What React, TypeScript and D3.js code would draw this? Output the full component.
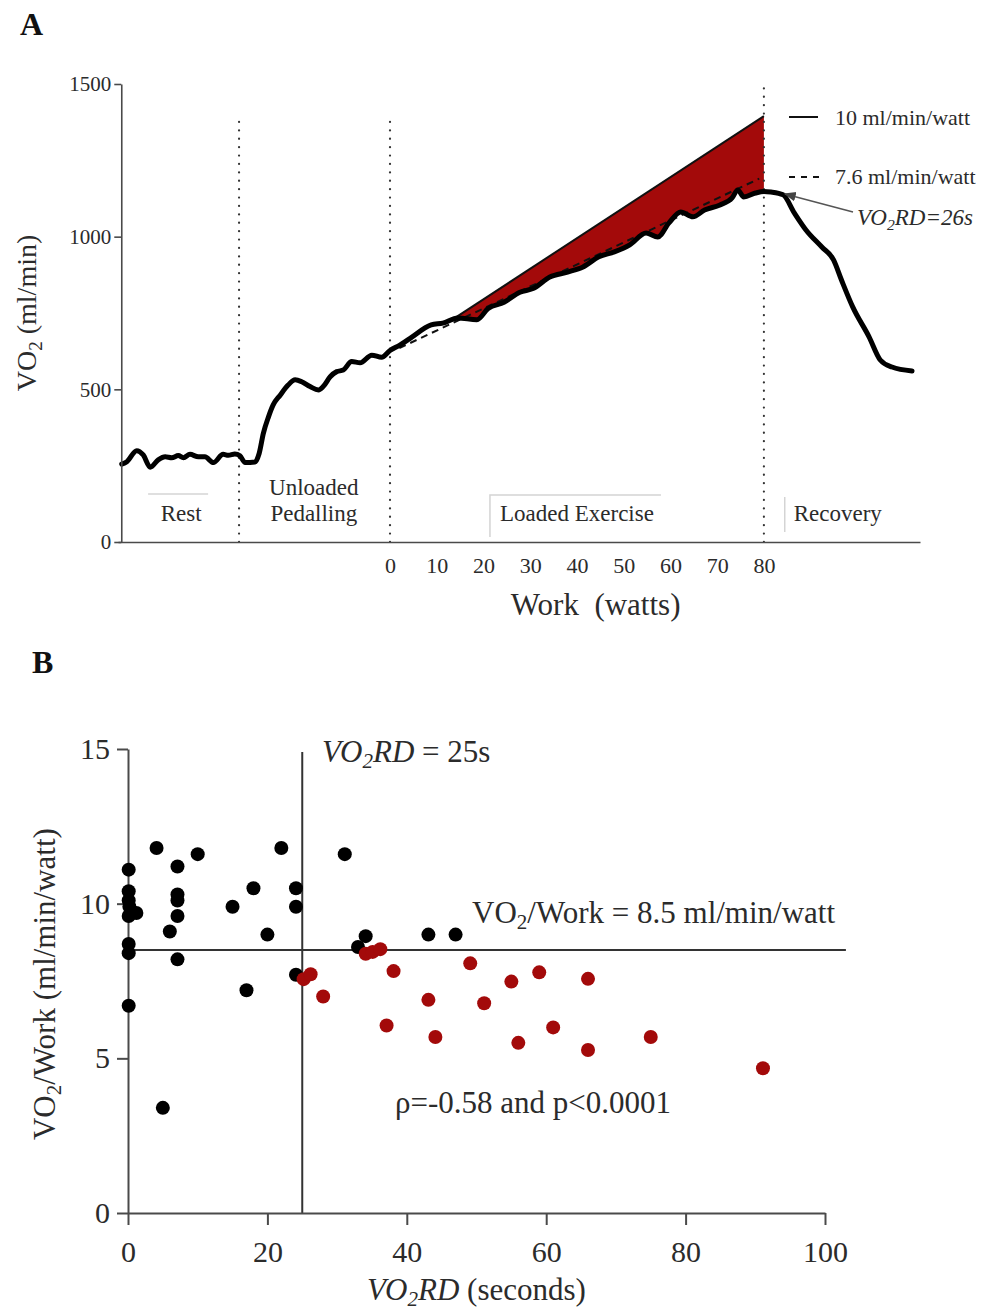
import React, { useEffect, useRef } from 'react';
import * as d3 from 'd3';

// ---- Panel A: VO2 trace, time expressed as work-equivalent watts (negative = before ramp) ----
const traceWork = [
  -57.4, -56.3, -54.2, -52.8, -51.3, -49.6, -48.1, -46.7, -45.3, -44.2, -42.8, -41.0, -39.6, -37.8,
  -35.7, -34.6, -33.2, -32.1, -31.0, -28.9, -28.0, -27.1, -26.0, -25.0, -23.5, -21.8, -20.3, -18.9,
  -17.1, -15.3, -14.3, -12.8, -11.4, -10.0, -8.2, -6.4, -3.9, -1.8, 0, 2.1, 4.3, 8.8, 11.3, 14.5,
  18.6, 21.0, 24.4, 27.8, 30.6, 34.2, 38.0, 41.3, 44.7, 48.0, 51.3, 54.8, 57.3, 59.7, 62.2, 64.8,
  67.3, 70.6, 73.2, 74.4, 75.7, 78.2, 80, 81.5, 84.1, 86.5, 89.0, 92.4, 94.9, 96.6, 99.0, 102.5,
  104.9, 107.4, 111.7,
];
const traceVo2 = [
  255, 263, 299, 285, 245, 269, 279, 276, 283, 276, 287, 279, 279, 260,
  287, 284, 288, 282, 260, 262, 290, 356, 410, 449, 481, 514, 531, 525,
  509, 498, 509, 541, 558, 563, 591, 587, 612, 605, 627, 645, 667, 711, 717, 734,
  728, 765, 785, 818, 830, 868, 884, 901, 934, 950, 973, 1012, 999, 1045, 1081, 1065,
  1087, 1104, 1127, 1153, 1130, 1143, 1148, 1146, 1137, 1078, 1022, 966, 924, 858, 770, 672,
  596, 573, 560,
];
const phaseBounds = [-32.3, 0, 80];
const phaseTops = [1380, 1380, 1500];
const phaseNames = [['Rest'], ['Unloaded', 'Pedalling'], ['Loaded Exercise'], ['Recovery']];
const phaseCentres = [-44.7, -16.3, 40, 95.8];
const workTicks = [0, 10, 20, 30, 40, 50, 60, 70, 80];
const vo2Ticks = [0, 500, 1000, 1500];
const refWork = [13.5, 80]; // 10 ml/min/watt reference
const refVo2 = [730, 1395];
const fitWork = [2, 79]; // 7.6 ml/min/watt fit
const fitVo2 = [635, 1190];
const peakMark = [84.5, 1140];

// ---- Panel B: VO2RD vs VO2/Work ----
const blackRd = [0.1, 0.1, 0.1, 0.2, 0.1, 1.2, 0.1, 0.1, 0.1, 4.1, 7.1, 7.1, 7.1, 7.1, 6.0, 7.1, 10.0, 5.0,
  15.0, 17.0, 18.0, 20.0, 22.0, 24.1, 24.1, 24.1, 31.1, 33.0, 34.1, 43.1, 47.0];
const blackRatio = [11.1, 10.4, 10.1, 9.9, 9.6, 9.7, 8.7, 8.4, 6.7, 11.8, 11.2, 10.3, 10.1, 9.6, 9.1, 8.2, 11.6, 3.4,
  9.9, 7.2, 10.5, 9.0, 11.8, 10.5, 9.9, 7.7, 11.6, 8.6, 8.95, 9.0, 9.0];
const redRd = [25.2, 26.2, 28.0, 34.1, 35.1, 36.2, 37.1, 38.1, 43.1, 44.1, 49.1, 51.1, 55.0, 56.0, 59.0,
  61.0, 66.0, 66.0, 75.0, 91.1];
const redRatio = [7.56, 7.72, 7.0, 8.38, 8.44, 8.53, 6.06, 7.82, 6.89, 5.69, 8.07, 6.78, 7.48, 5.5, 7.78,
  6.0, 7.57, 5.27, 5.69, 4.68];
const rdTicks = [0, 20, 40, 60, 80, 100];
const ratioTicks = [0, 5, 10, 15];
const rdCut = 25;
const ratioCut = 8.5;

const SERIF = "'Liberation Serif', 'Times New Roman', serif";
const AXIS = '#4a4a4a';
const TEXT = '#2b2b2b';
const RED = '#a30a0a';

export default function App() {
  const ref = useRef<SVGSVGElement | null>(null);

  useEffect(() => {
    document.body.style.margin = '0';
    if (!ref.current) return;
    const svg = d3.select(ref.current);
    svg.selectAll('*').remove();
    svg.attr('font-family', SERIF);

    // "VO" with a small subscript 2, then shift back to the baseline
    const addVO2 = (t: any, size: number, italic = false) => {
      const fs = italic ? 'italic' : null;
      const drop = Math.round(size * 0.2);
      t.append('tspan').attr('font-style', fs).text('VO');
      t.append('tspan').attr('font-style', fs).attr('dy', drop).attr('font-size', size * 0.68).text('2');
      return -drop;
    };

    const styleAxis = (g: any, size: number) => {
      g.attr('font-family', SERIF).attr('font-size', size);
      g.selectAll('path, line').attr('stroke', AXIS).attr('stroke-width', 1.6);
      g.selectAll('text').attr('fill', TEXT);
    };

    // ================= Panel A =================
    const xA = d3.scaleLinear().domain([-58.2, 113.4]).range([118, 920]);
    const yA = d3.scaleLinear().domain([0, 1500]).range([542, 84]);
    const trace: [number, number][] = traceWork.map((w, i) => [w, traceVo2[i]]);
    const refAt = (w: number) =>
      refVo2[0] + ((w - refWork[0]) * (refVo2[1] - refVo2[0])) / (refWork[1] - refWork[0]);
    const traceAt = (w: number) => d3.scaleLinear().domain(traceWork).range(traceVo2)(w);

    const gA = svg.append('g');
    gA.append('text').attr('x', 20).attr('y', 35).attr('font-size', 32)
      .attr('font-weight', 'bold').attr('fill', '#111').text('A');

    // red gap between reference slope and measured trace
    const areaPts: [number, number][] = [
      [refWork[0], traceAt(refWork[0])],
      ...trace.filter((d) => d[0] > refWork[0] && d[0] < refWork[1]),
      [refWork[1], traceAt(refWork[1])],
    ];
    gA.append('path')
      .datum(areaPts)
      .attr('fill', RED)
      .attr('d', d3.area<[number, number]>()
        .x((d) => xA(d[0]))
        .y0((d) => yA(d[1]))
        .y1((d) => yA(Math.max(refAt(d[0]), d[1]))));

    // dotted phase boundaries
    gA.selectAll('.phase')
      .data(phaseBounds)
      .enter()
      .append('line')
      .attr('x1', (d) => xA(d)).attr('x2', (d) => xA(d))
      .attr('y1', yA(0)).attr('y2', (d, i) => yA(phaseTops[i]))
      .attr('stroke', '#333').attr('stroke-width', 2.2)
      .attr('stroke-linecap', 'round').attr('stroke-dasharray', '0.1 8.3');

    // fitted (dashed) and reference (solid) slopes
    gA.append('line')
      .attr('x1', xA(fitWork[0])).attr('y1', yA(fitVo2[0]))
      .attr('x2', xA(fitWork[1])).attr('y2', yA(fitVo2[1]))
      .attr('stroke', '#111').attr('stroke-width', 2).attr('stroke-dasharray', '7 5');
    gA.append('line')
      .attr('x1', xA(refWork[0])).attr('y1', yA(refVo2[0]))
      .attr('x2', xA(refWork[1])).attr('y2', yA(refVo2[1]))
      .attr('stroke', '#111').attr('stroke-width', 2);

    // measured trace
    gA.append('path')
      .datum(trace)
      .attr('fill', 'none').attr('stroke', '#000').attr('stroke-width', 5)
      .attr('stroke-linejoin', 'round').attr('stroke-linecap', 'round')
      .attr('d', d3.line<[number, number]>().curve(d3.curveMonotoneX).x((d) => xA(d[0])).y((d) => yA(d[1])));

    // axes
    const yAxisA = gA.append('g')
      .attr('transform', `translate(${xA(-57.5)},0)`)
      .call(d3.axisLeft(yA).tickValues(vo2Ticks).tickSize(7).tickSizeOuter(0).tickPadding(3).tickFormat(d3.format('d')));
    styleAxis(yAxisA, 21);
    const xAxisA = gA.append('g')
      .attr('transform', `translate(0,${yA(0)})`)
      .call(d3.axisBottom(xA).tickValues(workTicks).tickSize(0).tickSizeOuter(0).tickPadding(15));
    styleAxis(xAxisA, 22);

    gA.append('text')
      .attr('transform', `translate(36,${yA(750)}) rotate(-90)`)
      .attr('text-anchor', 'middle').attr('font-size', 28).attr('fill', TEXT)
      .call((t: any) => {
        const back = addVO2(t, 28);
        t.append('tspan').attr('dy', back).text(' (ml/min)');
      });
    gA.append('text')
      .attr('x', xA(44)).attr('y', 615)
      .attr('text-anchor', 'middle').attr('font-size', 31).attr('fill', TEXT)
      .text('Work\u00a0\u00a0(watts)');

    // phase labels
    phaseNames.forEach((lines, i) => {
      const cx = xA(phaseCentres[i]);
      const t = gA.append('text').attr('text-anchor', 'middle').attr('font-size', 23).attr('fill', TEXT);
      lines.forEach((s, j) => {
        t.append('tspan').attr('x', cx).attr('y', yA(0) - 21 - (lines.length - 1 - j) * 26).text(s);
      });
    });
    // faint label box edges
    const faint = '#d4d4d4';
    const rx = xA(phaseCentres[0]);
    gA.append('line').attr('x1', rx - 33).attr('x2', rx + 27).attr('y1', 494).attr('y2', 494)
      .attr('stroke', faint).attr('stroke-width', 1.5);
    const lx = xA(phaseCentres[2]);
    gA.append('path').attr('d', `M${lx - 87},537V495H${lx + 84}`)
      .attr('fill', 'none').attr('stroke', faint).attr('stroke-width', 1.5);
    const vx = xA(phaseCentres[3]);
    gA.append('line').attr('x1', vx - 53).attr('x2', vx - 53).attr('y1', 497).attr('y2', 532)
      .attr('stroke', faint).attr('stroke-width', 1.5);

    // legend
    gA.append('line').attr('x1', 789).attr('x2', 818).attr('y1', 117).attr('y2', 117)
      .attr('stroke', '#111').attr('stroke-width', 2);
    gA.append('text').attr('x', 835).attr('y', 125).attr('font-size', 22).attr('fill', TEXT)
      .text('10 ml/min/watt');
    gA.append('line').attr('x1', 789).attr('x2', 820).attr('y1', 177).attr('y2', 177)
      .attr('stroke', '#111').attr('stroke-width', 2).attr('stroke-dasharray', '6 6');
    gA.append('text').attr('x', 835).attr('y', 184).attr('font-size', 22).attr('fill', TEXT)
      .text('7.6 ml/min/watt');

    // VO2RD annotation with arrow
    svg.append('defs').append('marker')
      .attr('id', 'arrowHead').attr('viewBox', '0 0 10 10').attr('refX', 9).attr('refY', 5)
      .attr('markerWidth', 8).attr('markerHeight', 8).attr('orient', 'auto-start-reverse')
      .append('path').attr('d', 'M0,1L10,5L0,9z').attr('fill', '#444');
    gA.append('line')
      .attr('x1', 853).attr('y1', 212)
      .attr('x2', xA(peakMark[0])).attr('y2', yA(peakMark[1]))
      .attr('stroke', '#555').attr('stroke-width', 1.5).attr('marker-end', 'url(#arrowHead)');
    gA.append('text').attr('x', 857).attr('y', 225).attr('font-size', 23).attr('fill', TEXT)
      .call((t: any) => {
        const back = addVO2(t, 23, true);
        t.append('tspan').attr('dy', back).attr('font-style', 'italic').text('RD=26s');
      });

    // ================= Panel B =================
    const xB = d3.scaleLinear().domain([0, 100]).range([128, 825]);
    const yB = d3.scaleLinear().domain([0, 15]).range([1213, 749]);
    const gB = svg.append('g');
    gB.append('text').attr('x', 32).attr('y', 673).attr('font-size', 32)
      .attr('font-weight', 'bold').attr('fill', '#111').text('B');

    // cut-off lines
    gB.append('line')
      .attr('x1', xB(rdCut)).attr('x2', xB(rdCut)).attr('y1', yB(0)).attr('y2', yB(14.9))
      .attr('stroke', '#333').attr('stroke-width', 2);
    gB.append('line')
      .attr('x1', xB(0)).attr('x2', xB(103)).attr('y1', yB(ratioCut)).attr('y2', yB(ratioCut))
      .attr('stroke', '#333').attr('stroke-width', 2);

    const yAxisB = gB.append('g')
      .attr('transform', `translate(${xB(0)},0)`)
      .call(d3.axisLeft(yB).tickValues(ratioTicks).tickSize(11).tickSizeOuter(0).tickPadding(7));
    styleAxis(yAxisB, 30);
    yAxisB.selectAll('path, line').attr('stroke-width', 2);
    const xAxisB = gB.append('g')
      .attr('transform', `translate(0,${yB(0)})`)
      .call(d3.axisBottom(xB).tickValues(rdTicks).tickSize(12).tickSizeOuter(0).tickPadding(16));
    styleAxis(xAxisB, 30);
    xAxisB.selectAll('path, line').attr('stroke-width', 2);

    gB.selectAll('.dot-black')
      .data(blackRd.map((r, i) => [r, blackRatio[i]]))
      .enter()
      .append('circle')
      .attr('cx', (d) => xB(d[0])).attr('cy', (d) => yB(d[1])).attr('r', 7)
      .attr('fill', '#000');
    gB.selectAll('.dot-red')
      .data(redRd.map((r, i) => [r, redRatio[i]]))
      .enter()
      .append('circle')
      .attr('cx', (d) => xB(d[0])).attr('cy', (d) => yB(d[1])).attr('r', 7)
      .attr('fill', RED);

    // annotations
    gB.append('text').attr('x', 322).attr('y', 762).attr('font-size', 31).attr('fill', TEXT)
      .call((t: any) => {
        const back = addVO2(t, 31, true);
        t.append('tspan').attr('dy', back).attr('font-style', 'italic').text('RD');
        t.append('tspan').text(' = 25s');
      });
    gB.append('text').attr('x', 472).attr('y', 923).attr('font-size', 31).attr('fill', TEXT)
      .call((t: any) => {
        const back = addVO2(t, 31);
        t.append('tspan').attr('dy', back).text('/Work = 8.5 ml/min/watt');
      });
    gB.append('text').attr('x', 395).attr('y', 1113).attr('font-size', 31).attr('fill', TEXT)
      .text('\u03c1=-0.58 and p<0.0001');

    gB.append('text')
      .attr('transform', `translate(55,${yB(7.4)}) rotate(-90)`)
      .attr('text-anchor', 'middle').attr('font-size', 31).attr('fill', TEXT)
      .call((t: any) => {
        const back = addVO2(t, 31);
        t.append('tspan').attr('dy', back).text('/Work (ml/min/watt)');
      });
    gB.append('text')
      .attr('x', xB(50)).attr('y', 1300)
      .attr('text-anchor', 'middle').attr('font-size', 31).attr('fill', TEXT)
      .call((t: any) => {
        const back = addVO2(t, 31, true);
        t.append('tspan').attr('dy', back).attr('font-style', 'italic').text('RD');
        t.append('tspan').text(' (seconds)');
      });
  }, []);

  return <svg ref={ref} width={990} height={1315} style={{ display: 'block', background: '#fff' }} />;
}
